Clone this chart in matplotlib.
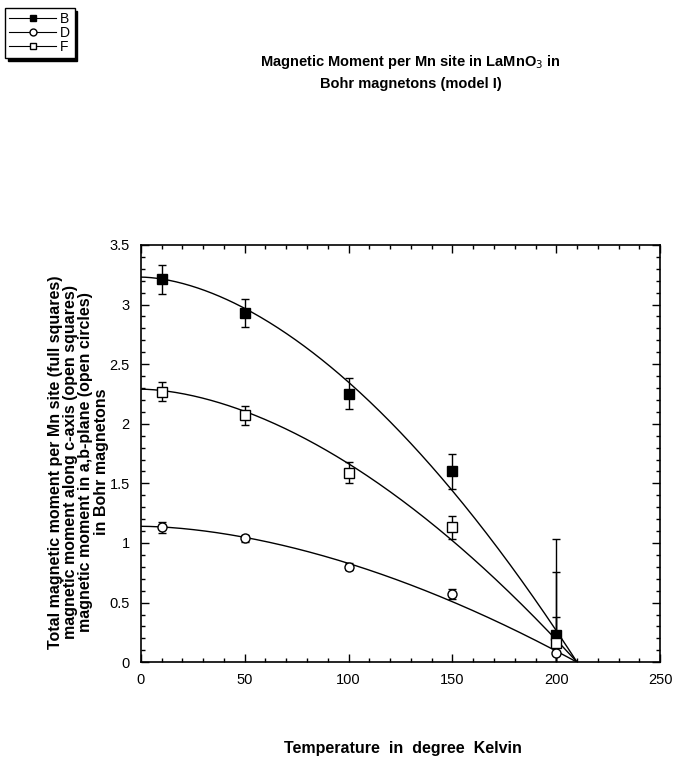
import numpy as np
import matplotlib.pyplot as plt
from matplotlib.lines import Line2D
from matplotlib.ticker import MultipleLocator, FuncFormatter

# measured points (temperature in K)
T = [10, 50, 100, 150, 200]

# B: total moment (full squares)
B = [3.21, 2.93, 2.25, 1.60, 0.23]
B_err = [0.12, 0.12, 0.13, 0.15, 0.80]

# D: a,b-plane moment (open circles)
D = [1.13, 1.04, 0.80, 0.57, 0.08]
D_err = [0.05, 0.03, 0.03, 0.04, 0.30]

# F: c-axis moment (open squares)
F = [2.27, 2.07, 1.59, 1.13, 0.16]
F_err = [0.08, 0.08, 0.09, 0.10, 0.60]

# fitted curves M(T) = M0 * (1 - (T/Tc)^alpha)
M0_B, M0_D, M0_F = 3.23, 1.14, 2.29
Tc = 210.0
alpha = 1.75

plt.rcParams['font.family'] = ['Liberation Sans', 'DejaVu Sans']

fig = plt.figure(figsize=(6.87, 7.8), dpi=100)
ax = fig.add_axes([0.205, 0.151, 0.756, 0.535])

tt = np.linspace(0, Tc, 300)
for M0 in (M0_B, M0_D, M0_F):
    ax.plot(tt, M0 * (1 - (tt / Tc) ** alpha), color='black', lw=1.0, zorder=2)

ekw = dict(ecolor='black', elinewidth=1.0, capsize=3, capthick=1.0, zorder=3)
ax.errorbar(T, B, yerr=B_err, fmt='s', ms=6.5, mfc='black', mec='black', **ekw)
ax.errorbar(T, D, yerr=D_err, fmt='o', ms=6.5, mfc='white', mec='black', mew=1.0, **ekw)
ax.errorbar(T, F, yerr=F_err, fmt='s', ms=6.5, mfc='white', mec='black', mew=1.0, **ekw)

ax.set_xlim(0, 250)
ax.set_ylim(0, 3.5)
ax.xaxis.set_major_locator(MultipleLocator(50))
ax.xaxis.set_minor_locator(MultipleLocator(10))
ax.yaxis.set_major_locator(MultipleLocator(0.5))
ax.yaxis.set_minor_locator(MultipleLocator(0.1))
ax.yaxis.set_major_formatter(FuncFormatter(lambda v, p: '%g' % v))
ax.tick_params(which='both', direction='in', top=True, right=True, labelsize=10.5, width=1.0)
ax.tick_params(which='major', length=6)
ax.tick_params(which='minor', length=3)
ax.tick_params(axis='x', pad=8)
ax.tick_params(axis='y', pad=8)
for s in ax.spines.values():
    s.set_linewidth(1.2)

fig.text(0.587, 0.041, 'Temperature  in  degree  Kelvin', ha='center', va='center',
         fontsize=11.5, fontweight='bold')
fig.text(0.114, 0.408,
         'Total magnetic moment per Mn site (full squares)\n'
         'magnetic moment along c-axis (open squares)\n'
         'magnetic moment in a,b-plane (open circles)\n'
         'in Bohr magnetons',
         rotation=90, ha='center', va='center', fontsize=11.5, fontweight='bold',
         linespacing=1.02)

fig.text(0.598, 0.908, 'Magnetic Moment per Mn site in LaMnO$_3$ in\nBohr magnetons (model I)',
         ha='center', va='center', fontsize=10.5, fontweight='bold', linespacing=1.55)

handles = [Line2D([], [], color='black', lw=0.8, marker='s', ms=5, mfc='black', mec='black'),
           Line2D([], [], color='black', lw=0.8, marker='o', ms=5, mfc='white', mec='black'),
           Line2D([], [], color='black', lw=0.8, marker='s', ms=5, mfc='white', mec='black')]
leg = fig.legend(handles, ['B', 'D', 'F'], loc='upper left',
                 bbox_to_anchor=(0.007, 0.99), borderaxespad=0, frameon=True, fancybox=False,
                 shadow={'color': 'black', 'alpha': 1}, edgecolor='black', fontsize=10,
                 handlelength=3.4, handletextpad=0.3, labelspacing=0.0, borderpad=0.3)
leg.get_frame().set_linewidth(1.0)

fig.savefig('out.png', dpi=100, facecolor='white')
